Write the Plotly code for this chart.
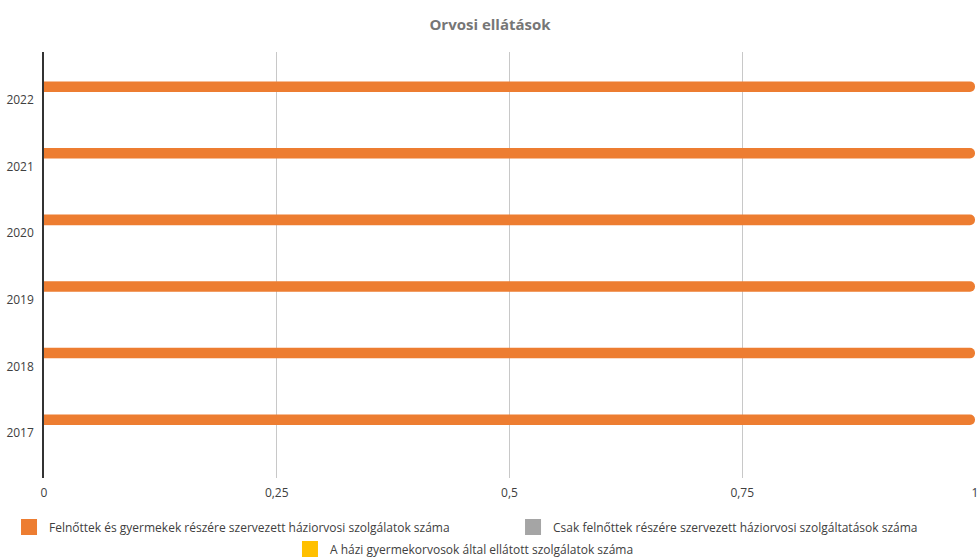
import plotly.graph_objects as go

years = ["2017", "2018", "2019", "2020", "2021", "2022"]
series_names = [
    "Felnőttek és gyermekek részére szervezett háziorvosi szolgálatok száma",
    "Csak felnőttek részére szervezett háziorvosi szolgáltatások száma",
    "A házi gyermekorvosok által ellátott szolgálatok száma",
]
felnott_gyermek = [1, 1, 1, 1, 1, 1]
csak_felnott = [0, 0, 0, 0, 0, 0]
hazi_gyermek = [0, 0, 0, 0, 0, 0]
x_ticks = [0, 0.25, 0.5, 0.75, 1]
x_tick_labels = ["0", "0,25", "0,5", "0,75", "1"]

colors = ["#ED7D31", "#A5A5A5", "#FFC000"]
FONT = "Open Sans"

fig = go.Figure()
series = [felnott_gyermek, csak_felnott, hazi_gyermek]
offsets = [0.121, -0.04, -0.2]
legends = ["legend", "legend2", "legend3"]
for name, vals, col, off, lg in zip(series_names, series, colors, offsets, legends):
    fig.add_trace(go.Bar(
        y=years, x=vals, name=name, orientation="h",
        marker=dict(color=col, line=dict(width=0)),
        width=0.158, offset=off, showlegend=False,
        hoverinfo="x+y+name",
    ))
    # legend entry with larger square swatch
    fig.add_trace(go.Scatter(
        x=[None], y=[None], mode="markers", name=name, legend=lg,
        marker=dict(symbol="square", size=17, color=col),
        hoverinfo="skip",
    ))

def leg(x, y):
    return dict(orientation="h", xref="container", yref="container",
                x=x, y=y, xanchor="left", yanchor="middle",
                font=dict(size=12, color="#404040"), itemclick=False,
                itemsizing="trace", bgcolor="rgba(0,0,0,0)")

fig.update_layout(
    width=980, height=559,
    margin=dict(l=44, r=5, t=52, b=81, autoexpand=False),
    paper_bgcolor="white", plot_bgcolor="white",
    barcornerradius=5,
    separators=", ",
    font=dict(family=FONT, size=12, color="#404040"),
    title=dict(text="<b>Orvosi ellátások</b>", x=0.5, xanchor="center",
               y=1 - 25 / 559, yanchor="middle", yref="container",
               font=dict(family=FONT, size=15, color="#767676")),
    xaxis=dict(range=[0, 1], tickvals=x_ticks, ticktext=x_tick_labels,
               showgrid=True, gridcolor="#C8C8C8", gridwidth=1,
               zeroline=False, showline=False, ticks="", ticklabelstandoff=6,
               tickfont=dict(size=12, color="#404040")),
    yaxis=dict(type="category", range=[-0.675, 5.72], showgrid=False,
               showline=True, linecolor="#333333", linewidth=1.5,
               zeroline=False, ticks="", ticklabelstandoff=6,
               tickfont=dict(size=12, color="#404040")),
    legend=leg(0.0092, 1 - 527 / 559),
    legend2=leg(0.5235, 1 - 527 / 559),
    legend3=leg(0.2959, 1 - 549 / 559),
    showlegend=True,
)

fig.write_html(
    "out.html",
    config={"displayModeBar": False},
    post_script="document.body.style.margin='0';document.body.style.overflow='hidden';",
)
